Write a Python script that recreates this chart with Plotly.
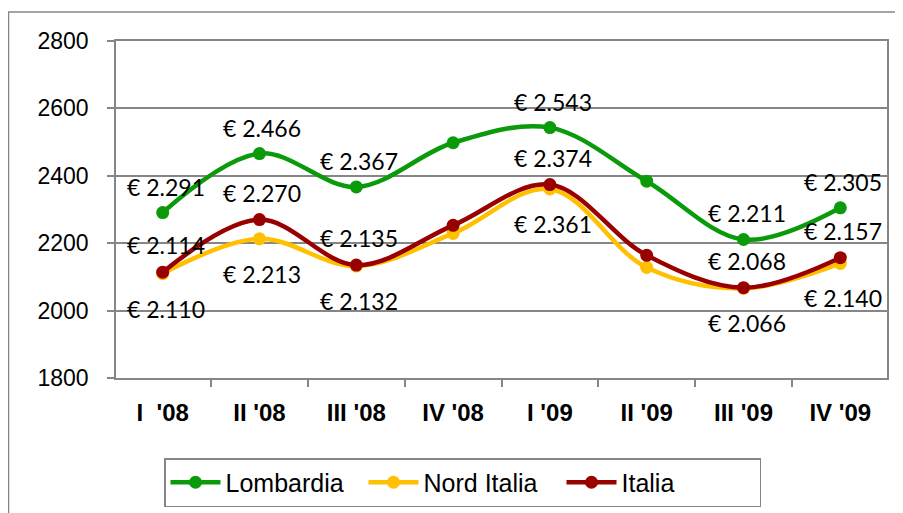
import plotly.graph_objects as go

categories = ["I  '08", "II '08", "III '08", "IV '08", "I '09", "II '09", "III '09", "IV '09"]
lombardia = [2291, 2466, 2367, 2498, 2543, 2384, 2211, 2305]
nord_italia = [2110, 2213, 2132, 2229, 2361, 2128, 2066, 2140]
italia = [2114, 2270, 2135, 2253, 2374, 2164, 2068, 2157]
show_label = [True, True, True, False, True, False, True, True]

series = [
    ("Lombardia", lombardia, "#0A9A0A", 26),
    ("Nord Italia", nord_italia, "#FFC000", -35),
    ("Italia", italia, "#990000", 27),
]

fig = go.Figure()
for name, vals, color, _ in series:
    fig.add_trace(go.Scatter(
        x=categories, y=vals, name=name, mode="lines+markers",
        line=dict(color=color, width=4.5, shape="spline", smoothing=1.0),
        marker=dict(color=color, size=13),
    ))

def fmt(v):
    s = f"{v:,}".replace(",", ".")
    return "€ " + s

for name, vals, color, shift in series:
    for c, v, show in zip(categories, vals, show_label):
        if not show:
            continue
        fig.add_annotation(x=c, y=v, text=fmt(v), showarrow=False,
                           yshift=shift, xshift=3,
                           font=dict(family="Lato, Carlito, sans-serif", size=23, color="#000000"))

fig.add_shape(type="rect", xref="paper", yref="paper",
              x0=-0.1394, x1=1.04, y0=-0.45, y1=1.086,
              line=dict(color="#868686", width=1.5), layer="below")

fig.update_layout(
    width=903, height=513,
    margin=dict(l=108, r=24, t=33, b=143, autoexpand=False),
    paper_bgcolor="white", plot_bgcolor="white",
    showlegend=True,
    legend=dict(orientation="h", x=156 / 903, xref="container", xanchor="left",
                y=1 - 450 / 513, yref="container", yanchor="top",
                bordercolor="#868686", borderwidth=1.5,
                font=dict(family="Liberation Sans, Arial, sans-serif", size=25, color="#000000"),
                itemwidth=50, entrywidthmode="pixels", entrywidth=133),
    xaxis=dict(
        type="category", tickson="boundaries", ticks="outside", ticklen=7,
        tickcolor="#868686", tickwidth=1.5,
        showline=True, linecolor="#868686", linewidth=1.5, mirror=True,
        showgrid=False,
        tickfont=dict(family="Liberation Sans, Arial, sans-serif", size=24, color="#000000", weight="bold"),
        ticklabelstandoff=12,
    ),
    yaxis=dict(
        range=[1800, 2800], dtick=200, ticks="outside", ticklen=7,
        tickcolor="#868686", tickwidth=1.5,
        showline=True, linecolor="#868686", linewidth=1.5, mirror=True,
        showgrid=True, gridcolor="#868686", gridwidth=1.5, zeroline=False,
        tickfont=dict(family="Liberation Sans, Arial, sans-serif", size=23, color="#000000"),
        ticklabelstandoff=14,
    ),
)

fig.write_html("out.html")
